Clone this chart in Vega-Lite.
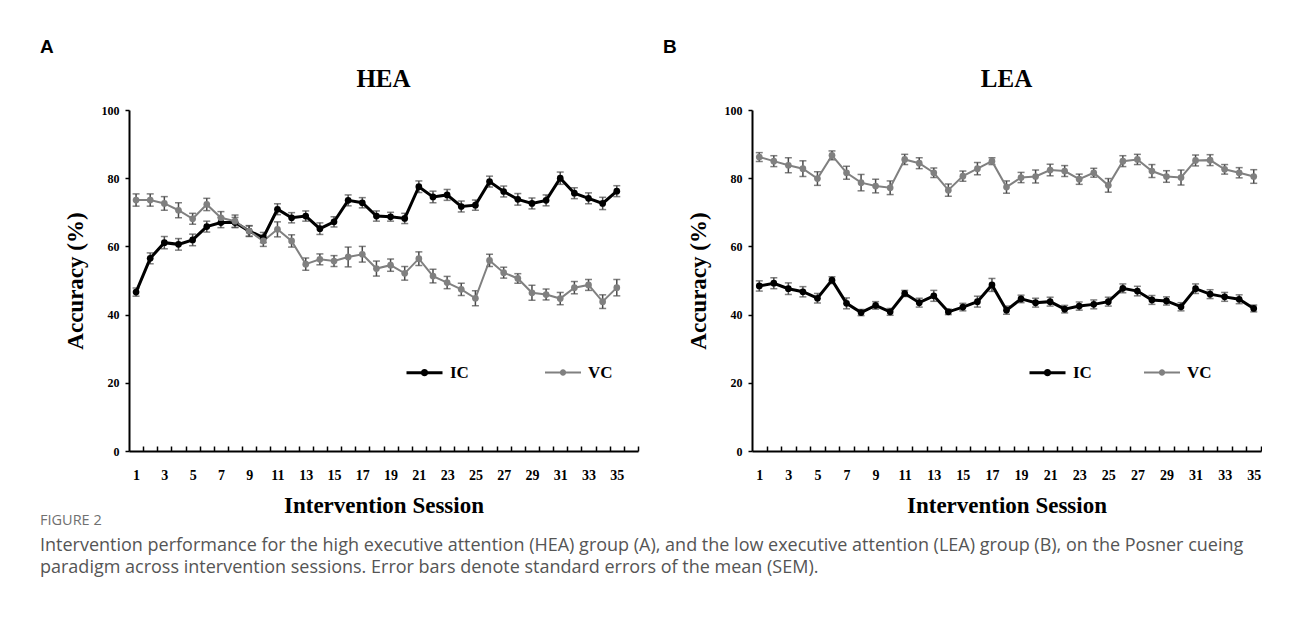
{
"$schema": "https://vega.github.io/schema/vega-lite/v6.json",
"background": "white",
"padding": {"left": 40, "top": 38, "right": 0, "bottom": 0},
"title": {"text": "FIGURE 2", "subtitle": ["Intervention performance for the high executive attention (HEA) group (A), and the low executive attention (LEA) group (B), on the Posner cueing", "paradigm across intervention sessions. Error bars denote standard errors of the mean (SEM)."], "orient": "bottom", "anchor": "start", "frame": "bounds", "dx": 0, "offset": -3, "font": "Open Sans", "fontSize": 14.5, "fontWeight": "normal", "color": "#707070", "subtitleFont": "Open Sans", "subtitleFontSize": 18, "subtitleColor": "#555555", "subtitlePadding": 8, "subtitleLineHeight": 22.5},
"datasets": {
"hea": [
{"s":1,"g":"IC","acc":46.6,"sem":1.2},{"s":2,"g":"IC","acc":56.5,"sem":1.6},{"s":3,"g":"IC","acc":61.1,"sem":1.8},{"s":4,"g":"IC","acc":60.6,"sem":1.7},{"s":5,"g":"IC","acc":61.9,"sem":1.7},{"s":6,"g":"IC","acc":65.8,"sem":1.6},{"s":7,"g":"IC","acc":67.0,"sem":1.5},{"s":8,"g":"IC","acc":67.0,"sem":1.5},{"s":9,"g":"IC","acc":64.5,"sem":1.5},{"s":10,"g":"IC","acc":62.6,"sem":1.5},{"s":11,"g":"IC","acc":70.9,"sem":1.6},{"s":12,"g":"IC","acc":68.4,"sem":1.5},{"s":13,"g":"IC","acc":68.9,"sem":1.5},{"s":14,"g":"IC","acc":65.2,"sem":1.7},{"s":15,"g":"IC","acc":67.2,"sem":1.5},{"s":16,"g":"IC","acc":73.5,"sem":1.6},{"s":17,"g":"IC","acc":72.8,"sem":1.5},{"s":18,"g":"IC","acc":68.9,"sem":1.5},{"s":19,"g":"IC","acc":68.7,"sem":1.3},{"s":20,"g":"IC","acc":68.2,"sem":1.5},{"s":21,"g":"IC","acc":77.5,"sem":1.7},{"s":22,"g":"IC","acc":74.5,"sem":1.7},{"s":23,"g":"IC","acc":75.1,"sem":1.6},{"s":24,"g":"IC","acc":71.7,"sem":1.6},{"s":25,"g":"IC","acc":72.1,"sem":1.5},{"s":26,"g":"IC","acc":79.0,"sem":1.6},{"s":27,"g":"IC","acc":76.1,"sem":1.6},{"s":28,"g":"IC","acc":73.8,"sem":1.7},{"s":29,"g":"IC","acc":72.6,"sem":1.6},{"s":30,"g":"IC","acc":73.5,"sem":1.6},{"s":31,"g":"IC","acc":80.0,"sem":1.8},{"s":32,"g":"IC","acc":75.6,"sem":1.6},{"s":33,"g":"IC","acc":74.1,"sem":1.6},{"s":34,"g":"IC","acc":72.6,"sem":1.8},{"s":35,"g":"IC","acc":76.2,"sem":1.6},
{"s":1,"g":"VC","acc":73.6,"sem":1.8},{"s":2,"g":"VC","acc":73.6,"sem":1.8},{"s":3,"g":"VC","acc":72.6,"sem":2.0},{"s":4,"g":"VC","acc":70.6,"sem":2.2},{"s":5,"g":"VC","acc":68.1,"sem":1.6},{"s":6,"g":"VC","acc":72.3,"sem":1.8},{"s":7,"g":"VC","acc":68.4,"sem":1.8},{"s":8,"g":"VC","acc":67.4,"sem":1.8},{"s":9,"g":"VC","acc":64.5,"sem":1.6},{"s":10,"g":"VC","acc":61.6,"sem":1.6},{"s":11,"g":"VC","acc":65.0,"sem":2.2},{"s":12,"g":"VC","acc":61.6,"sem":1.8},{"s":13,"g":"VC","acc":54.8,"sem":1.8},{"s":14,"g":"VC","acc":56.2,"sem":1.6},{"s":15,"g":"VC","acc":55.7,"sem":1.6},{"s":16,"g":"VC","acc":56.9,"sem":2.9},{"s":17,"g":"VC","acc":57.7,"sem":2.3},{"s":18,"g":"VC","acc":53.5,"sem":2.2},{"s":19,"g":"VC","acc":54.5,"sem":1.8},{"s":20,"g":"VC","acc":52.1,"sem":2.0},{"s":21,"g":"VC","acc":56.4,"sem":2.0},{"s":22,"g":"VC","acc":51.3,"sem":2.0},{"s":23,"g":"VC","acc":49.4,"sem":1.8},{"s":24,"g":"VC","acc":47.4,"sem":1.8},{"s":25,"g":"VC","acc":44.8,"sem":2.2},{"s":26,"g":"VC","acc":55.9,"sem":1.8},{"s":27,"g":"VC","acc":52.3,"sem":1.6},{"s":28,"g":"VC","acc":50.6,"sem":1.4},{"s":29,"g":"VC","acc":46.4,"sem":2.2},{"s":30,"g":"VC","acc":45.9,"sem":1.6},{"s":31,"g":"VC","acc":44.7,"sem":1.8},{"s":32,"g":"VC","acc":47.9,"sem":1.8},{"s":33,"g":"VC","acc":48.7,"sem":1.6},{"s":34,"g":"VC","acc":43.8,"sem":2.0},{"s":35,"g":"VC","acc":47.9,"sem":2.4}
],
"lea": [
{"s":1,"g":"IC","acc":48.4,"sem":1.5},{"s":2,"g":"IC","acc":49.2,"sem":1.6},{"s":3,"g":"IC","acc":47.6,"sem":1.7},{"s":4,"g":"IC","acc":46.7,"sem":1.5},{"s":5,"g":"IC","acc":44.8,"sem":1.4},{"s":6,"g":"IC","acc":50.1,"sem":1.0},{"s":7,"g":"IC","acc":43.3,"sem":1.6},{"s":8,"g":"IC","acc":40.6,"sem":0.9},{"s":9,"g":"IC","acc":42.7,"sem":1.1},{"s":10,"g":"IC","acc":40.8,"sem":1.0},{"s":11,"g":"IC","acc":46.2,"sem":0.9},{"s":12,"g":"IC","acc":43.5,"sem":1.3},{"s":13,"g":"IC","acc":45.5,"sem":1.6},{"s":14,"g":"IC","acc":40.8,"sem":0.8},{"s":15,"g":"IC","acc":42.2,"sem":1.1},{"s":16,"g":"IC","acc":43.8,"sem":1.6},{"s":17,"g":"IC","acc":48.7,"sem":1.9},{"s":18,"g":"IC","acc":41.3,"sem":1.2},{"s":19,"g":"IC","acc":44.6,"sem":1.1},{"s":20,"g":"IC","acc":43.5,"sem":1.3},{"s":21,"g":"IC","acc":43.8,"sem":1.3},{"s":22,"g":"IC","acc":41.6,"sem":1.1},{"s":23,"g":"IC","acc":42.5,"sem":1.2},{"s":24,"g":"IC","acc":43.0,"sem":1.3},{"s":25,"g":"IC","acc":43.8,"sem":1.3},{"s":26,"g":"IC","acc":47.7,"sem":1.3},{"s":27,"g":"IC","acc":46.9,"sem":1.4},{"s":28,"g":"IC","acc":44.3,"sem":1.3},{"s":29,"g":"IC","acc":44.0,"sem":1.2},{"s":30,"g":"IC","acc":42.3,"sem":1.2},{"s":31,"g":"IC","acc":47.6,"sem":1.4},{"s":32,"g":"IC","acc":46.0,"sem":1.3},{"s":33,"g":"IC","acc":45.2,"sem":1.3},{"s":34,"g":"IC","acc":44.5,"sem":1.3},{"s":35,"g":"IC","acc":41.8,"sem":1.0},
{"s":1,"g":"VC","acc":86.2,"sem":1.3},{"s":2,"g":"VC","acc":85.0,"sem":1.6},{"s":3,"g":"VC","acc":83.8,"sem":2.2},{"s":4,"g":"VC","acc":82.8,"sem":2.3},{"s":5,"g":"VC","acc":79.9,"sem":2.0},{"s":6,"g":"VC","acc":86.7,"sem":1.3},{"s":7,"g":"VC","acc":81.6,"sem":1.9},{"s":8,"g":"VC","acc":78.7,"sem":2.4},{"s":9,"g":"VC","acc":77.7,"sem":2.0},{"s":10,"g":"VC","acc":77.2,"sem":2.0},{"s":11,"g":"VC","acc":85.5,"sem":1.5},{"s":12,"g":"VC","acc":84.4,"sem":1.6},{"s":13,"g":"VC","acc":81.6,"sem":1.4},{"s":14,"g":"VC","acc":76.5,"sem":1.8},{"s":15,"g":"VC","acc":80.6,"sem":1.5},{"s":16,"g":"VC","acc":82.8,"sem":1.8},{"s":17,"g":"VC","acc":85.0,"sem":1.0},{"s":18,"g":"VC","acc":77.4,"sem":1.8},{"s":19,"g":"VC","acc":80.2,"sem":1.5},{"s":20,"g":"VC","acc":80.5,"sem":1.9},{"s":21,"g":"VC","acc":82.4,"sem":1.7},{"s":22,"g":"VC","acc":82.1,"sem":1.6},{"s":23,"g":"VC","acc":79.7,"sem":1.5},{"s":24,"g":"VC","acc":81.6,"sem":1.3},{"s":25,"g":"VC","acc":77.9,"sem":2.0},{"s":26,"g":"VC","acc":85.0,"sem":1.6},{"s":27,"g":"VC","acc":85.5,"sem":1.5},{"s":28,"g":"VC","acc":82.1,"sem":1.9},{"s":29,"g":"VC","acc":80.5,"sem":1.7},{"s":30,"g":"VC","acc":80.2,"sem":2.2},{"s":31,"g":"VC","acc":85.2,"sem":1.6},{"s":32,"g":"VC","acc":85.3,"sem":1.6},{"s":33,"g":"VC","acc":82.6,"sem":1.4},{"s":34,"g":"VC","acc":81.6,"sem":1.5},{"s":35,"g":"VC","acc":80.5,"sem":2.0}
]
},
"hconcat": [
{
"title": {"text": "A", "anchor": "start", "font": "Liberation Sans", "fontSize": 19, "fontWeight": "bold", "dx": -24, "offset": 10},
"vconcat": [{
"title": {"text": "HEA", "fontSize": 25, "offset": 12},
"width": 509, "height": 341,
"data": {"name": "hea"},
"encoding": {
"x": {"field": "s", "type": "quantitative", "scale": {"domain": [0.5, 36.5], "nice": false, "zero": false},
 "axis": {"title": "Intervention Session", "labelOverlap": false, "labelFlush": false, "values": [1,2,3,4,5,6,7,8,9,10,11,12,13,14,15,16,17,18,19,20,21,22,23,24,25,26,27,28,29,30,31,32,33,34,35,36], "format": "d", "labelExpr": "datum.value % 2 === 1 ? datum.label : ''", "tickOffset": 7.07, "labelOffset": -7.07}},
"y": {"field": "acc", "type": "quantitative", "scale": {"domain": [0, 100], "nice": false},
 "axis": {"title": "Accuracy (%)", "values": [0,20,40,60,80,100]}}
},
"layer": [
{"mark": {"type": "errorbar", "ticks": {"size": 7}, "thickness": 1.5, "color": "#4a4a4a"}, "encoding": {"yError": {"field": "sem"}}},
{"mark": {"type": "line"}, "encoding": {
 "color": {"field": "g", "type": "nominal", "scale": {"domain": ["IC","VC"], "range": ["#000000","#808080"]}, "legend": {"orient": "none", "legendX": 276, "legendY": 243, "columnPadding": 72}},
 "strokeWidth": {"field": "g", "type": "ordinal", "scale": {"domain": ["IC","VC"], "range": [3, 2]}, "legend": null}}},
{"mark": {"type": "point", "filled": true, "size": 45, "opacity": 1}, "encoding": {
 "color": {"field": "g", "type": "nominal", "scale": {"domain": ["IC","VC"], "range": ["#000000","#808080"]}, "legend": null}}}
]
}]
},
{
"title": {"text": "B", "anchor": "start", "font": "Liberation Sans", "fontSize": 19, "fontWeight": "bold", "dx": -24, "offset": 10},
"vconcat": [{
"title": {"text": "LEA", "fontSize": 25, "offset": 12},
"width": 509, "height": 341,
"data": {"name": "lea"},
"encoding": {
"x": {"field": "s", "type": "quantitative", "scale": {"domain": [0.5, 35.5], "nice": false, "zero": false},
 "axis": {"title": "Intervention Session", "labelOverlap": false, "labelFlush": false, "values": [1,2,3,4,5,6,7,8,9,10,11,12,13,14,15,16,17,18,19,20,21,22,23,24,25,26,27,28,29,30,31,32,33,34,35], "format": "d", "labelExpr": "datum.value % 2 === 1 ? datum.label : ''", "tickOffset": 7.27, "labelOffset": -7.27}},
"y": {"field": "acc", "type": "quantitative", "scale": {"domain": [0, 100], "nice": false},
 "axis": {"title": "Accuracy (%)", "values": [0,20,40,60,80,100]}}
},
"layer": [
{"mark": {"type": "errorbar", "ticks": {"size": 7}, "thickness": 1.5, "color": "#4a4a4a"}, "encoding": {"yError": {"field": "sem"}}},
{"mark": {"type": "line"}, "encoding": {
 "color": {"field": "g", "type": "nominal", "scale": {"domain": ["IC","VC"], "range": ["#000000","#808080"]}, "legend": {"orient": "none", "legendX": 276, "legendY": 243, "columnPadding": 48}},
 "strokeWidth": {"field": "g", "type": "ordinal", "scale": {"domain": ["IC","VC"], "range": [3, 2]}, "legend": null}}},
{"mark": {"type": "point", "filled": true, "size": 45, "opacity": 1}, "encoding": {
 "color": {"field": "g", "type": "nominal", "scale": {"domain": ["IC","VC"], "range": ["#000000","#808080"]}, "legend": null}}}
]
}]
}
],
"spacing": 24,
"resolve": {"scale": {"x": "independent", "y": "independent", "color": "independent", "strokeWidth": "independent"}, "legend": {"color": "independent"}},
"config": {
"view": {"stroke": null},
"font": "Liberation Serif",
"title": {"font": "Liberation Serif", "fontWeight": "bold", "color": "#000000"},
"axis": {"grid": false, "domainColor": "#000000", "domainWidth": 2, "tickColor": "#000000", "tickWidth": 1.5, "labelColor": "#000000", "titleColor": "#000000", "labelFont": "Liberation Serif", "titleFont": "Liberation Serif", "labelFontWeight": "bold", "titleFontWeight": "bold", "titleFontSize": 23},
"axisX": {"tickSize": -5, "labelFontSize": 14, "labelPadding": 22, "labelOverlap": false, "labelFlush": false, "titlePadding": 12},
"axisY": {"tickSize": 4, "labelFontSize": 12, "labelPadding": 6, "titlePadding": 14},
"legend": {"direction": "horizontal", "title": null, "padding": 0, "symbolType": "M-1,0H1M-0.12,0A0.12,0.12,0,1,1,0.12,0A0.12,0.12,0,1,1,-0.12,0", "symbolSize": 1296, "symbolStrokeWidth": 2.5, "labelFont": "Liberation Serif", "labelFontWeight": "bold", "labelFontSize": 17, "labelColor": "#000000", "labelOffset": 6}
}
}
